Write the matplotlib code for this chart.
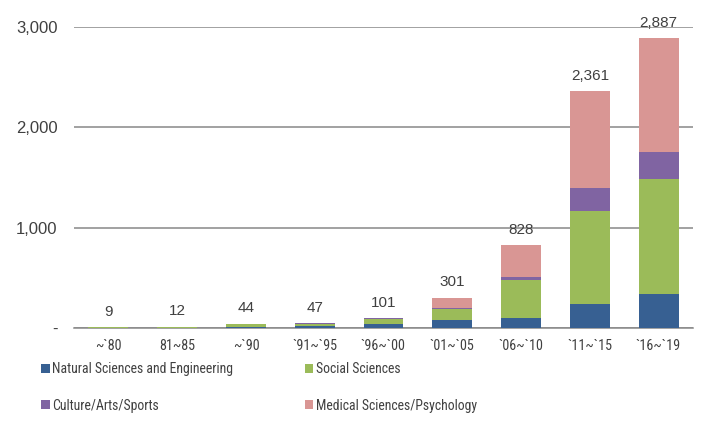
import numpy as np
import matplotlib
matplotlib.use("Agg")
import matplotlib.pyplot as plt
from matplotlib import font_manager

# periods and counts per field
periods = ["~`80", "81~85", "~`90", "`91~`95", "`96~`00",
           "`01~`05", "`06~`10", "`11~`15", "`16~`19"]
natural = [1, 1, 8, 22, 42, 80, 103, 235, 340]
social = [4, 9, 30, 20, 52, 108, 378, 936, 1150]
culture = [0, 0, 1, 3, 2, 10, 30, 229, 260]
medical = [4, 2, 5, 2, 5, 103, 317, 961, 1137]
totals = [9, 12, 44, 47, 101, 301, 828, 2361, 2887]
yticks = [0, 1000, 2000, 3000]
ytick_labels = ["-", "1,000", "2,000", "3,000"]

# look for a condensed face, otherwise shrink the regular one
installed = {f.name for f in font_manager.fontManager.ttflist}
narrow_size = 9.9
narrow = None
for fam in ["Liberation Sans Narrow", "DejaVu Sans Condensed", "Roboto Condensed",
            "Open Sans Condensed", "Noto Sans Condensed"]:
    if fam in installed:
        narrow = [fam, "DejaVu Sans"]
        break
if narrow is None:
    narrow = ["Liberation Sans", "DejaVu Sans"]
    narrow_size = 8.4
wide = ["Liberation Sans", "DejaVu Sans"]
txt_col = "#404040"

fig = plt.figure(figsize=(7.05, 4.30), dpi=100)
ax = fig.add_axes([74/705, 102/430, 619/705, 301/430])

x = np.arange(len(periods))
w = 0.58
series = [natural, social, culture, medical]
colors = ["#376092", "#9BBB59", "#8064A2", "#D99694"]
names = ["Natural Sciences and Engineering", "Social Sciences",
         "Culture/Arts/Sports", "Medical Sciences/Psychology"]
bottom = np.zeros(len(periods))
bars = []
for vals, c, n in zip(series, colors, names):
    b = ax.bar(x, vals, w, bottom=bottom, color=c, label=n, zorder=3)
    bars.append(b)
    bottom += np.array(vals)

for xi, top, t in zip(x, bottom, totals):
    ax.annotate(f"{t:,}", (xi, top), xytext=(0, 6), textcoords="offset points",
                ha="center", va="bottom", fontsize=11, family=wide,
                color=txt_col, annotation_clip=False, zorder=4)

ax.set_xlim(-0.5, len(periods) - 0.5)
ax.set_ylim(0, 3000)
ax.set_yticks(yticks)
ax.set_yticklabels(ytick_labels, family=wide, fontsize=12, color=txt_col)
ax.set_xticks(x)
ax.set_xticklabels(periods, family=narrow, fontsize=narrow_size + 0.3, color=txt_col)
ax.tick_params(axis="y", length=0, pad=12)
ax.tick_params(axis="x", length=0, pad=8)
ax.grid(axis="y", color="#888888", linewidth=1.1, zorder=1)
for s in ["top", "right", "left"]:
    ax.spines[s].set_visible(False)
ax.spines["bottom"].set_color("#888888")
ax.spines["bottom"].set_linewidth(1.1)

order = [0, 2, 1, 3]
leg = fig.legend([bars[i] for i in order], [names[i] for i in order],
                 ncol=2, loc="upper left", bbox_to_anchor=(41/705, 1 - 362/430),
                 frameon=False, prop={"family": narrow, "size": narrow_size},
                 handlelength=0.65, handleheight=0.65, handletextpad=0.15,
                 columnspacing=5.2, labelspacing=1.65, borderpad=0, borderaxespad=0)
for t in leg.get_texts():
    t.set_color(txt_col)

fig.savefig("out.png", dpi=100)
